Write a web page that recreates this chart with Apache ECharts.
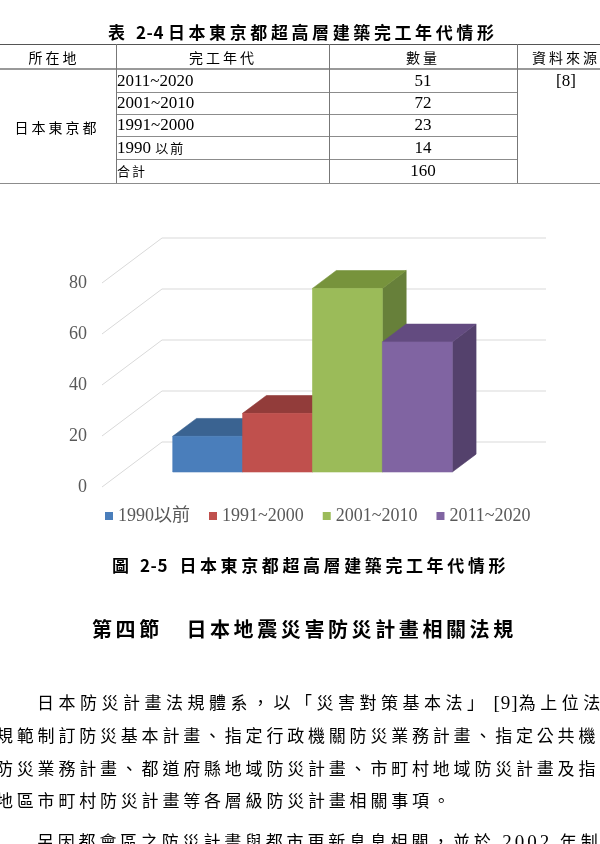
<!DOCTYPE html>
<html><head><meta charset="utf-8">
<script src="https://cdn.jsdelivr.net/npm/echarts@6/dist/echarts.min.js"></script>
<style>
html,body{margin:0;padding:0;background:#fff;}
body{width:600px;height:844px;overflow:hidden;position:relative;font-family:"Noto Sans CJK TC",sans-serif;color:#000;}
#chart{position:absolute;left:0;top:0;width:600px;height:844px;}
.t{position:absolute;white-space:nowrap;line-height:24px;}
.c{transform:translate(-50%,-50%);}
.l{transform:translate(0,-50%);}
.ser{font-family:"Liberation Serif",serif;}
.dg{letter-spacing:0.5px;}
.hl{position:absolute;height:0;border-top:1px solid #8c8c8c;}
.vl{position:absolute;width:0;border-left:1px solid #777;}
</style></head>
<body>
<div id="chart"></div>
<div id="doc"></div>
<script>
// ---- data ----
const periods = ['1990以前', '1991~2000', '2001~2010', '2011~2020'];
const counts = [14, 23, 72, 51];
const yTicks = [0, 20, 40, 60, 80];
const tablePeriods = ['2011~2020', '2001~2010', '1991~2000', '1990 以前'];
const tableCounts = [51, 72, 23, 14];
const tableTotal = 160;
const frontColors = ['#4a7ebb', '#c0504d', '#9bbb59', '#8064a2'];
const topColors = ['#3a6391', '#923c3a', '#77933c', '#634b80'];
const sideColors = ['#335781', '#7f3432', '#67803a', '#54416c'];

// ---- document text / table ----
const doc = document.getElementById('doc');
function txt(html, x, y, cls, style) {
  const d = document.createElement('div');
  d.className = 't ' + cls;
  d.style.left = x + 'px';
  d.style.top = y + 'px';
  if (style) d.style.cssText += style;
  d.innerHTML = html;
  doc.appendChild(d);
}
function hline(x, y, w, style) {
  const d = document.createElement('div');
  d.className = 'hl';
  d.style.left = x + 'px'; d.style.top = y + 'px'; d.style.width = w + 'px';
  if (style) d.style.cssText += style;
  doc.appendChild(d);
}
function vline(x, y, h) {
  const d = document.createElement('div');
  d.className = 'vl';
  d.style.left = x + 'px'; d.style.top = y + 'px'; d.style.height = h + 'px';
  doc.appendChild(d);
}
// table title
txt('表 <span class="dg" style="margin-right:4px;">2-4</span>日本東京都超高層建築完工年代情形', 108, 32, 'l', 'font-size:17px;font-weight:700;letter-spacing:3.6px;');
const colX = [0, 116, 329, 517];
const rowY = [44, 69, 92, 114, 136, 159, 183];
hline(0, rowY[0], 600, 'border-top:1.5px solid #555;');
hline(0, rowY[1] - 1, 600, 'border-top:2px solid #999;');
for (let r = 2; r < rowY.length - 1; r++) hline(colX[1], rowY[r], colX[3] - colX[1]);
hline(0, rowY[6], 600);
for (let c = 1; c < colX.length; c++) vline(colX[c], rowY[0], rowY[6] - rowY[0]);
const hs = 'font-size:14px;letter-spacing:3px;';
txt('所在地', 54, 56.5, 'c', hs);
txt('完工年代', 223, 56.5, 'c', hs);
txt('數量', 423, 56.5, 'c', hs);
txt('資料來源', 532, 56.5, 'l', hs);
txt('日本東京都', 57, 127, 'c', hs);
txt('[8]', 566, 80.5, 'c ser', 'font-size:17px;');
const rowLabels = tablePeriods.concat(['合計']);
const rowVals = tableCounts.concat([tableTotal]);
for (let r = 0; r < rowLabels.length; r++) {
  const cy = (rowY[r + 1] + rowY[r + 2]) / 2;
  const lab = rowLabels[r].replace(/([^\x00-\x7f]+)/g, '<span style="font-family:\'Noto Sans CJK TC\';font-size:13px;letter-spacing:2px;">$1</span>');
  txt(lab, 117, cy, 'l ser', 'font-size:17px;');
  txt(String(rowVals[r]), 423, cy, 'c ser', 'font-size:17px;');
}
// caption + heading
txt('圖 <span class="dg" style="margin-right:4px;">2-5</span> 日本東京都超高層建築完工年代情形', 112, 565, 'l', 'font-size:17px;font-weight:700;letter-spacing:3.6px;');
txt('第四節　日本地震災害防災計畫相關法規', 92, 629, 'l', 'font-size:20px;font-weight:700;letter-spacing:3.6px;');
// paragraph
const ps = 'font-size:17px;letter-spacing:3.8px;';
txt('日本防災計畫法規體系，以「災害對策基本法」<span class="ser" style="font-size:19px;letter-spacing:1px;margin-left:5px;">[9]</span>為上位法規，', 37, 702, 'l', 'font-size:17px;letter-spacing:4.5px;');
txt('規範制訂防災基本計畫、指定行政機關防災業務計畫、指定公共機關', -4, 735, 'l', ps);
txt('防災業務計畫、都道府縣地域防災計畫、市町村地域防災計畫及指定', -4, 768, 'l', ps);
txt('地區市町村防災計畫等各層級防災計畫相關事項。', -4, 800, 'l', ps);
txt('另因都會區之防災計畫與都市更新息息相關，並於 <span class="ser" style="font-size:19px;letter-spacing:3px;">2002</span> 年制訂', 37, 841, 'l', ps);

// ---- chart ----
const chart = echarts.init(document.getElementById('chart'), null, {renderer: 'canvas'});
const DX = 60, DY = -45;      // side-wall depth
const F1 = 1 / 3, F2 = 0.73;  // bar front / back depth fractions
const BAR_FRAC = 0.182;
function barSeries(i) {
  return {
    type: 'custom', name: periods[i], coordinateSystem: 'cartesian2d', clip: false, z: 3 + i,
    itemStyle: {color: frontColors[i]},
    encode: {x: 0, y: 1},
    data: [[0, counts[i]]],
    renderItem: function (params, api) {
      const base = api.coord([api.value(0), 0]);
      const top = api.coord([api.value(0), api.value(1)]);
      const band = api.size([1, 0])[0];
      const w = band * BAR_FRAC;
      const x0 = base[0] - 2 * w + i * w - 1.5;
      const ax = DX * F1, ay = DY * F1, bx = DX * F2, by = DY * F2;
      return {type: 'group', children: [
        {type: 'polygon', shape: {points: [[x0 + ax + w, top[1] + ay], [x0 + bx + w, top[1] + by], [x0 + bx + w, base[1] + by], [x0 + ax + w, base[1] + ay]]},
          style: {fill: sideColors[i], stroke: sideColors[i], lineWidth: 0.6}},
        {type: 'polygon', shape: {points: [[x0 + ax, top[1] + ay], [x0 + ax + w, top[1] + ay], [x0 + bx + w, top[1] + by], [x0 + bx, top[1] + by]]},
          style: {fill: topColors[i], stroke: topColors[i], lineWidth: 0.6}},
        {type: 'rect', shape: {x: x0 + ax, y: top[1] + ay, width: w, height: base[1] - top[1]},
          style: {fill: frontColors[i], stroke: frontColors[i], lineWidth: 0.6}}
      ]};
    }
  };
}
const wallSeries = {
  type: 'custom', coordinateSystem: 'cartesian2d', clip: false, z: 1, silent: true,
  encode: {x: 0, y: 1},
  data: yTicks.map(function (v) { return [0, v]; }),
  renderItem: function (params, api) {
    const p = api.coord([api.value(0), api.value(1)]);
    const cs = params.coordSys;
    const x1 = cs.x, y1 = p[1];
    return {type: 'group', children: [
      {type: 'line', shape: {x1: x1, y1: y1, x2: x1 + DX, y2: y1 + DY}, style: {stroke: '#d9d9d9', lineWidth: 1}},
      {type: 'line', shape: {x1: x1 + DX, y1: y1 + DY, x2: cs.x + cs.width + DX, y2: y1 + DY}, style: {stroke: '#d9d9d9', lineWidth: 1}}
    ]};
  }
};
chart.setOption({
  animation: false,
  grid: {left: 102, top: 283, width: 384, height: 204},
  xAxis: {type: 'category', data: ['東京都'], show: false},
  yAxis: {type: 'value', min: 0, max: 80, interval: 20,
    axisLine: {show: false}, axisTick: {show: false}, splitLine: {show: false},
    axisLabel: {margin: 15, color: '#595959', fontFamily: 'Liberation Serif', fontSize: 18}},
  legend: {left: 105, top: 507, padding: 0, itemWidth: 8, itemHeight: 8, itemGap: 19, icon: 'rect',
    data: periods.map(function (n) { return {name: n, icon: 'rect'}; }),
    textStyle: {fontFamily: 'Liberation Serif, Noto Sans CJK TC', fontSize: 18, color: '#595959'}},
  series: [wallSeries].concat(periods.map(function (p, i) { return barSeries(i); }))
});
</script>
</body></html>
